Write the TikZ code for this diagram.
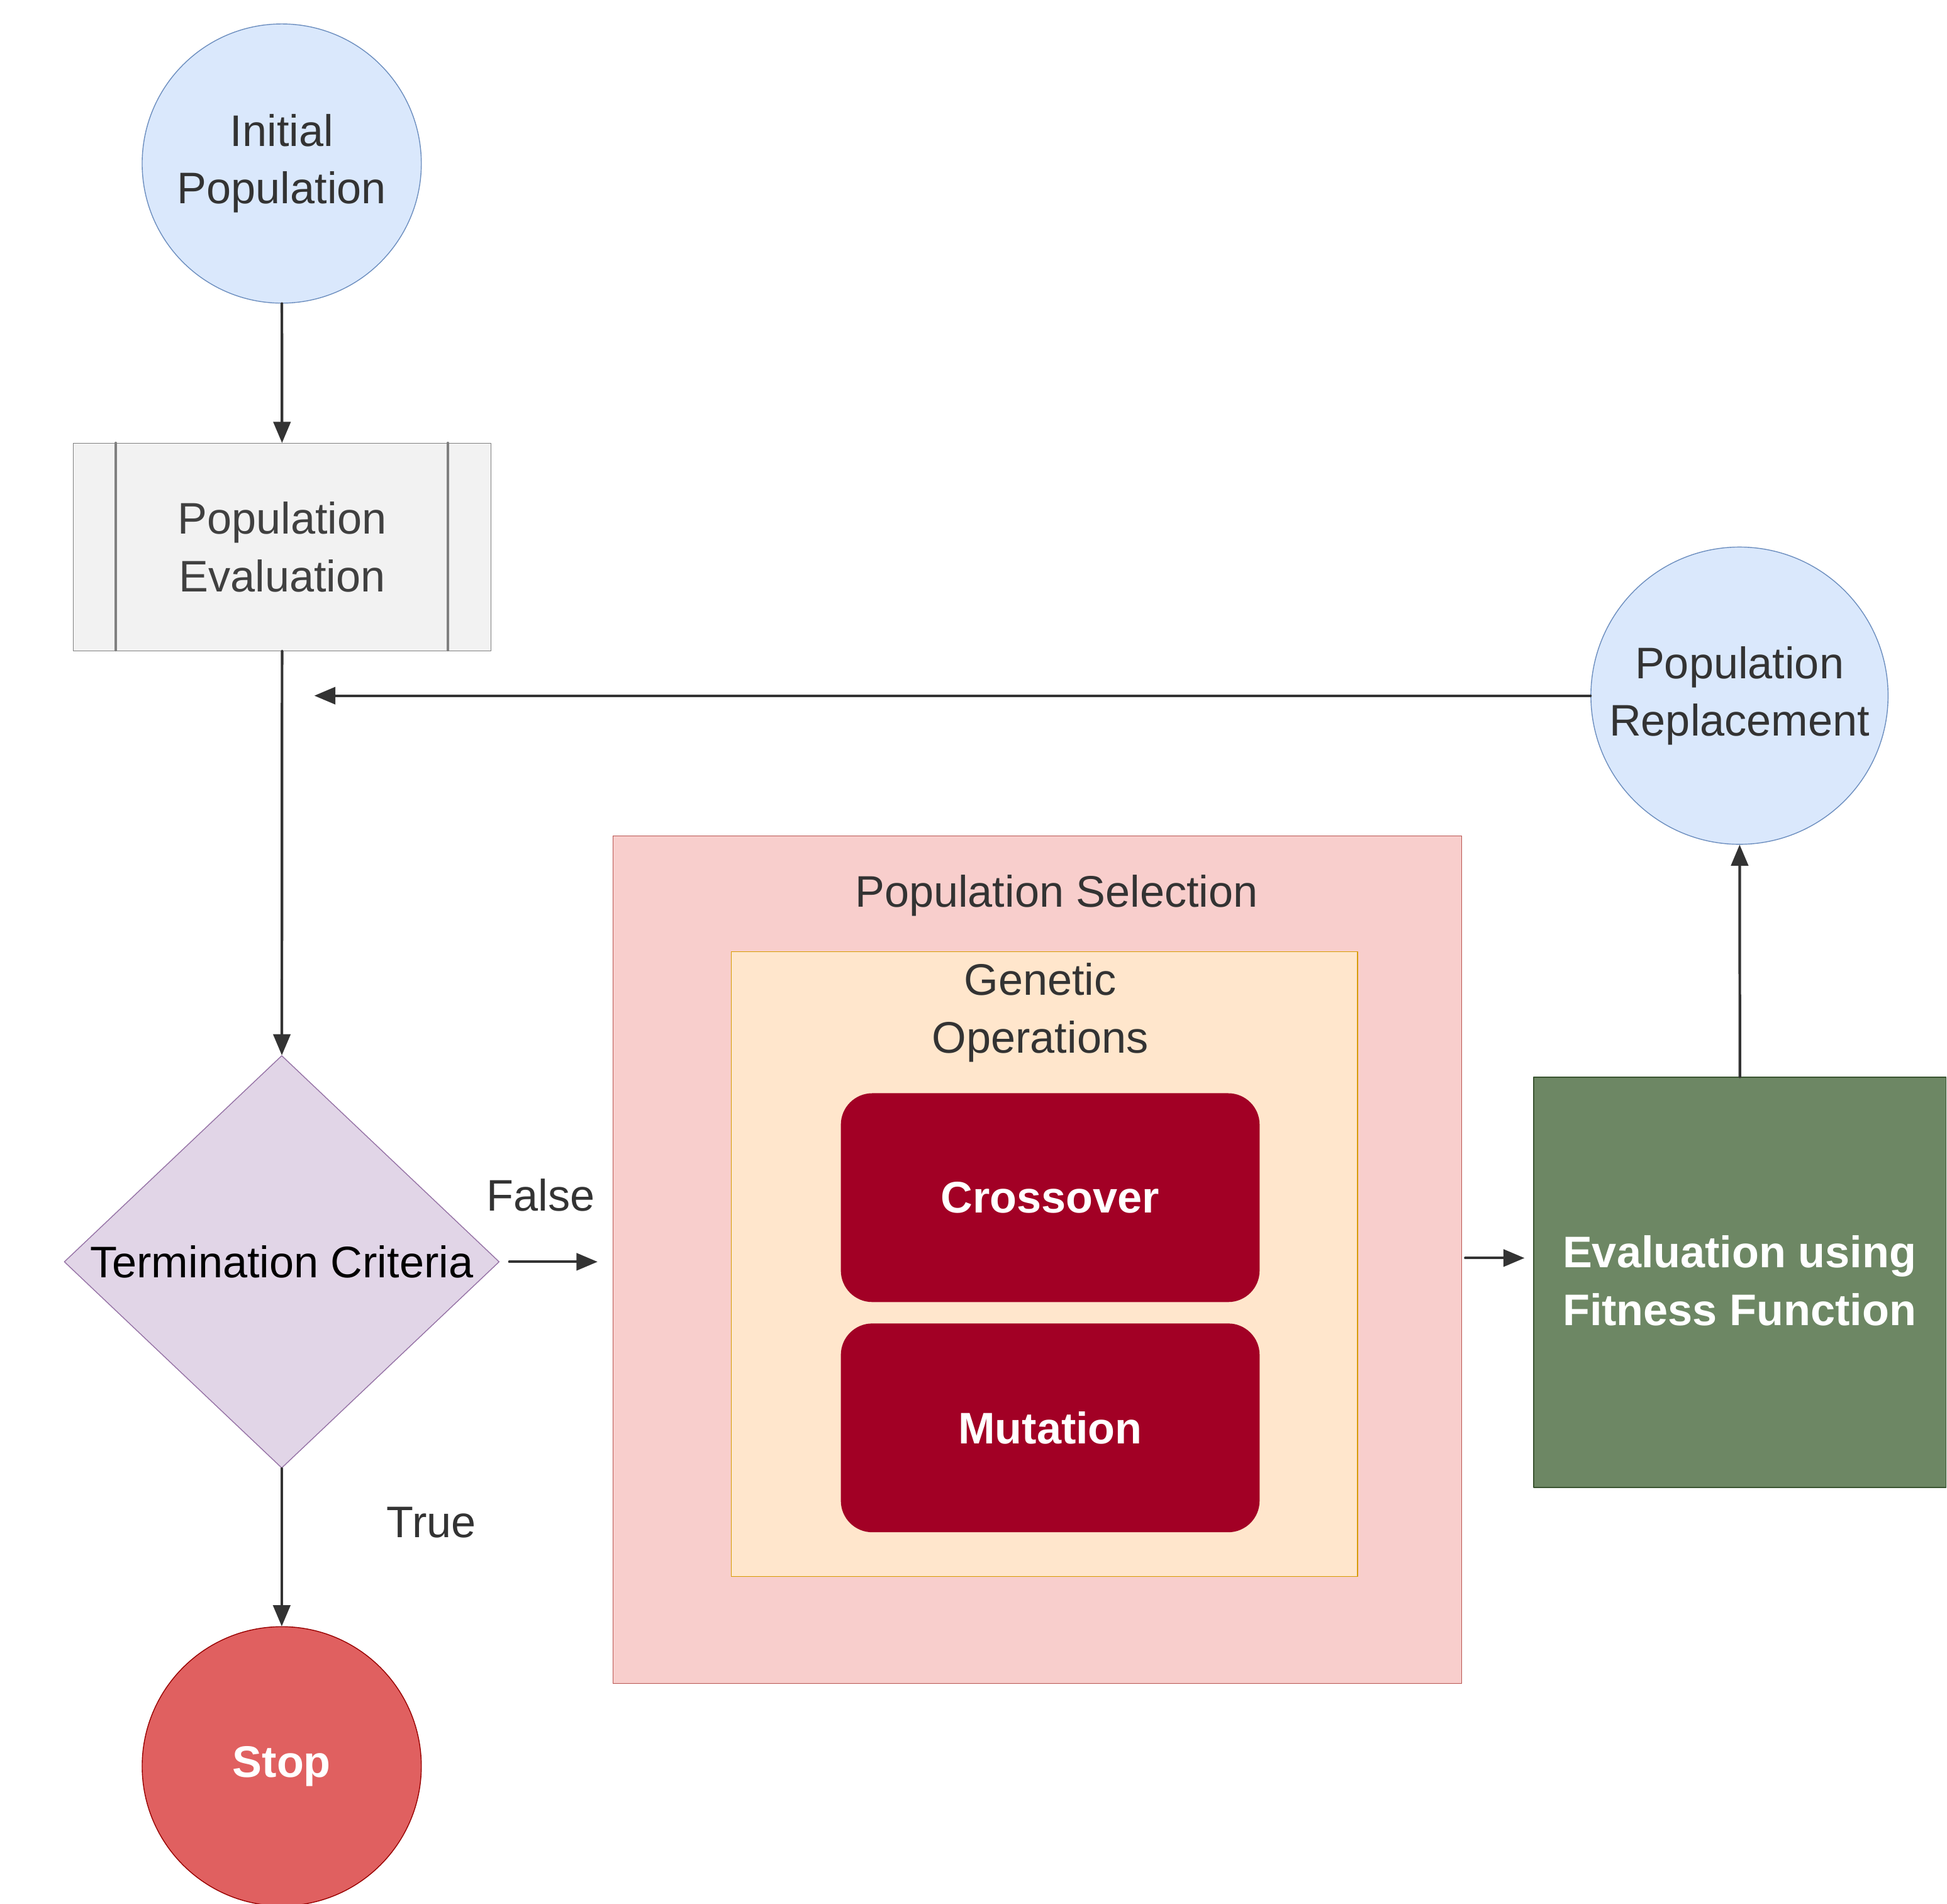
\documentclass[tikz,border=0pt]{standalone}
\usepackage{fontspec}
\setmainfont{Liberation Sans}
\usetikzlibrary{shapes.geometric,arrows}
\definecolor{bluefill}{HTML}{DAE8FC}
\definecolor{bluedraw}{HTML}{6C8EBF}
\definecolor{pinkfill}{HTML}{F8CECC}
\definecolor{pinkdraw}{HTML}{B85450}
\definecolor{orgfill}{HTML}{FFE6CC}
\definecolor{orgdraw}{HTML}{D79B00}
\definecolor{wine}{HTML}{A20025}
\definecolor{grn}{HTML}{6D8764}
\definecolor{grndraw}{HTML}{3A5431}
\definecolor{lila}{HTML}{E1D5E7}
\definecolor{liladraw}{HTML}{9673A6}
\definecolor{stopred}{HTML}{E06060}
\begin{document}
\begin{tikzpicture}[line cap=round,line join=round,>=triangle 45,x=0.02cm,y=-0.02cm,
    font=\fontsize{20}{26}\selectfont,
    circ/.style={circle, draw=bluedraw, fill=bluefill, minimum size=4.44cm, align=center, text=black!80},
    box/.style={draw, rectangle, inner sep=0pt, anchor=north west},
    op/.style={rounded corners=0.5cm, fill=wine, text=white, font=\fontsize{20}{26}\selectfont\bfseries, minimum width=6.66cm, minimum height=3.32cm},
    arr/.style={->, line width=1.2pt, black!80}]
    \useasboundingbox (0,0) rectangle (1548,1513);

    \node[circ] (init) at (224,130) {Initial\\Population};
    \node[box, fill=black!5, draw=black!50, minimum width=6.64cm, minimum height=3.3cm, align=center, text=black!75] (eval) at (58,352) {Population\\Evaluation};
    \draw[black!50, line width=1pt] (92,352) -- (92,517) (356,352) -- (356,517);

    \node[diamond, draw=liladraw, fill=lila, minimum width=6.92cm, minimum height=6.56cm, inner sep=0pt] (term) at (224,1003) {};
    \node at (224,1003) {Termination Criteria};

    \node[circle, draw=red!60!black, fill=stopred, minimum size=4.44cm, text=white, font=\fontsize{20}{26}\selectfont\bfseries] (stop) at (224,1404) {Stop};

    \node[circ] (repl) at (1383,553) {Population\\Replacement};

    \node[box, fill=pinkfill, draw=pinkdraw, minimum width=13.5cm, minimum height=13.48cm] (sel) at (487,664) {};
    \node[text=black!80] at (840,712) {Population Selection};
    \node[box, fill=orgfill, draw=orgdraw, minimum width=9.96cm, minimum height=9.94cm] (gen) at (581,756) {};
    \node[align=center, text=black!80] at (827,805) {Genetic\\Operations};
    \node[op] (cross) at (835,952) {Crossover};
    \node[op] (mut) at (835,1135) {Mutation};

    \node[box, fill=grn, draw=grndraw, minimum width=6.56cm, minimum height=6.52cm] (fit) at (1219,856) {};
    \node[text=white, font=\fontsize{20}{26}\selectfont\bfseries, align=left] at (1383,1018) {Evaluation using\\Fitness Function};

    \coordinate (back) at (250,553);
    \coordinate (fa) at (405,1003);
    \coordinate (fb) at (475,1003);
    \coordinate (ga) at (1165,1000);
    \coordinate (gb) at (1212,1000);

    \draw[arr] (init) -- (eval);
    \draw[arr] (eval) -- (term);
    \draw[arr] (term) -- (stop);
    \draw[arr] (repl) -- (back);
    \draw[arr] (fit.north) -- (repl);
    \draw[arr] (fa) -- (fb);
    \draw[arr] (ga) -- (gb);
    \node[text=black!80] at (430,950) {False};
    \node[text=black!80] at (343,1210) {True};
\end{tikzpicture}
\end{document}
